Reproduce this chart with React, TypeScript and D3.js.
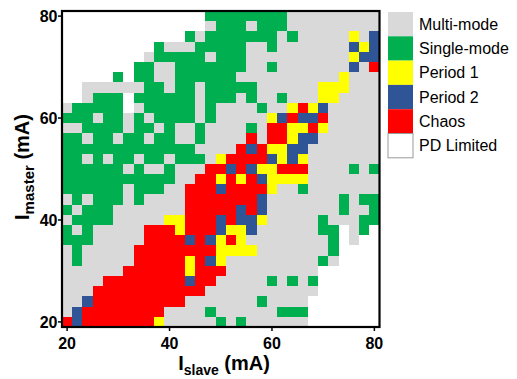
import React from "react";
import * as d3 from "d3";

// I_slave (mA) categories, left to right
const slaveCurrents = [20, 22, 24, 26, 28, 30, 32, 34, 36, 38, 40, 42, 44, 46, 48, 50, 52, 54, 56, 58, 60, 62, 64, 66, 68, 70, 72, 74, 76, 78, 80];
// I_master (mA) categories, top to bottom
const masterCurrents = [80, 78, 76, 74, 72, 70, 68, 66, 64, 62, 60, 58, 56, 54, 52, 50, 48, 46, 44, 42, 40, 38, 36, 34, 32, 30, 28, 26, 24, 22, 20];

// State of each cell (one string per master current, one char per slave current)
// M = Multi-mode, S = Single-mode, 1 = Period 1, 2 = Period 2, C = Chaos, W = PD Limited
const stateRows = [
  "WWWWWWWWWWWWWWSSSSSSSSMMMMMMMMM",
  "WWWWWWWWWWWWWWMSSSMSSSMMMMMMMMM",
  "WWWWWWWWWWWWSMSSSSSSSMSMMMMM1M2",
  "WWWWWWWWWSMMMSSSSSMMSMMMMMMM212",
  "WWWWWWWWMSSSSSMSSSMMMMMMMMMM122",
  "WWWWWWWSSMMSSSSSSSMMSMMMMMMM2MC",
  "WWWWWSWSSMMSSSSSSMMMMMMMMMM1MMM",
  "WWMMMMMMSSMSSMSSSSSMMMMMM111MMM",
  "WWMSSSWSSSSSSMSSSMSMMSMMM11MMMM",
  "MSSSSSWMSSSSSMSMMMMSMM1C12MMMMM",
  "SSSMSSMSMSSSSMSMMMMM12C22CMMMMM",
  "MMSSSSMSSMSMMSMMMMSMCC11C1MMMMM",
  "SSMSSMSSMSSMMSMMMMCMCC122MMMMMM",
  "SSSSSSSSSSSSSMMMMC2C1122MMMMMMM",
  "SSMSMSSMSSMSSSM1CCCC2121MMMMMMM",
  "SSSSSSMSMMSMMMCC2C211CCCMMMMSMS",
  "SSSSSSSSSSSMMCC1C1C21111MMMMMMM",
  "SSSSSSMSSSMMCCC2CCCC1MMSMMMMMMM",
  "MSMSSSMSMMMMCCCCCCC2MMMMMMMSMSS",
  "SMSSSMMMMMMMCCCCC2C2MMMMMMMSMMS",
  "MSSSSMMMMM11CCC2C221MMMMMSMMMSS",
  "SMSMMMMMCCC1CCC2112MMMMMMSSWMSW",
  "SSSMMMMMCCCC2C21C1MMMMMMMMSWMWW",
  "MSMMMMMCCCCCCCC1111MMMMMMMSWWWW",
  "MSMMMMMCCCCC1C21MMMMMMMMMSMWWWW",
  "MMMMMMCCCCCC1CCCMMMMMMMMMWWWWWW",
  "MMMMCCCCCCCC2CCMMMMMSMSMSWWWWWW",
  "MMMCCCCCCCCCCCMMMMMMMMMMMWWWWWW",
  "MM2CCCCCCCCCMMMMMMMSMMMMWWWWWWW",
  "M2CCCCCCCCMMMMSMMMMMMSSSWWWWWWW",
  "C2CCCCCCC1MMMMMSMSMMMMMMWWWWWWW",
];

const stateCodes = ["M", "S", "1", "2", "C", "W"];
const stateLabels = ["Multi-mode", "Single-mode", "Period 1", "Period 2", "Chaos", "PD Limited"];
const tickValues = [20, 40, 60, 80];

const colors: Record<string, string> = {
  M: "#d9d9d9",
  S: "#00b050",
  "1": "#ffff00",
  "2": "#2f5597",
  C: "#ff0000",
  W: "#ffffff",
};

const W = 517;
const H = 379;
const left = 62;
const right = 379.5;
const top = 11;
const bottom = 327;
const font = "'Liberation Sans', Arial, Helvetica, sans-serif";

export default function App() {
  const xBand = d3.scaleBand<number>().domain(slaveCurrents).range([left, right]).padding(0);
  const yBand = d3.scaleBand<number>().domain(masterCurrents).range([top, bottom]).padding(0);
  const xLin = d3.scaleLinear().domain([19, 81]).range([left, right]);
  const yLin = d3.scaleLinear().domain([19, 81]).range([bottom, top]);

  const cells: React.ReactNode[] = [];
  stateRows.forEach((row, ri) => {
    const m = masterCurrents[ri];
    row.split("").forEach((code, ci) => {
      const s = slaveCurrents[ci];
      cells.push(
        <rect
          key={`${ri}-${ci}`}
          x={xBand(s)}
          y={yBand(m)}
          width={xBand.bandwidth()}
          height={yBand.bandwidth()}
          fill={colors[code]}
          shapeRendering="crispEdges"
        />
      );
    });
  });

  const legendX = 388;
  const legendY = 12;
  const swW = 25;
  const swH = 24.3;

  return (
    <svg
      width={W}
      height={H}
      style={{ position: "absolute", left: 0, top: 0, background: "#fff" }}
      fontFamily={font}
    >
      <g>{cells}</g>
      <rect x={left} y={top} width={right - left} height={bottom - top} fill="none" stroke="#000" strokeWidth={2.2} />
      {/* y ticks */}
      {tickValues.map((v) => (
        <g key={`y${v}`}>
          <line x1={left - 4} x2={left} y1={yLin(v)} y2={yLin(v)} stroke="#000" strokeWidth={1.5} />
          <text x={57.5} y={yLin(v) + 5.7} textAnchor="end" fontSize={16} fontWeight="bold">
            {v}
          </text>
        </g>
      ))}
      {/* x ticks */}
      {tickValues.map((v) => (
        <g key={`x${v}`}>
          <line x1={xLin(v)} x2={xLin(v)} y1={bottom} y2={bottom + 4} stroke="#000" strokeWidth={1.5} />
          <text x={xLin(v)} y={348.5} textAnchor="middle" fontSize={16} fontWeight="bold">
            {v}
          </text>
        </g>
      ))}
      {/* x label */}
      <text x={224} y={370} textAnchor="middle" fontSize={20} fontWeight="bold">
        I
        <tspan fontSize={14} dy={5}>slave</tspan>
        <tspan dy={-5}> (mA)</tspan>
      </text>
      {/* y label */}
      <text transform="translate(29,167) rotate(-90)" textAnchor="middle" fontSize={20} fontWeight="bold">
        I
        <tspan fontSize={15} dy={5}>master</tspan>
        <tspan dy={-5}> (mA)</tspan>
      </text>
      {/* legend */}
      {stateCodes.map((code, i) => (
        <g key={code}>
          <rect
            x={legendX}
            y={legendY + i * swH}
            width={swW}
            height={swH}
            fill={colors[code]}
            stroke={code === "W" ? "#999" : "none"}
            strokeWidth={1}
          />
          <text x={419} y={legendY + i * swH + swH / 2 + 5.6} fontSize={16}>
            {stateLabels[i]}
          </text>
        </g>
      ))}
    </svg>
  );
}
